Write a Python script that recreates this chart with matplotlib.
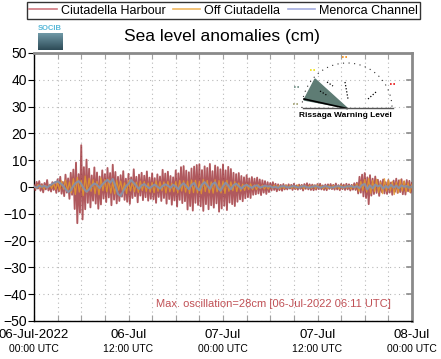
import numpy as np
import matplotlib
matplotlib.use("Agg")
import matplotlib.pyplot as plt
from matplotlib.lines import Line2D
from matplotlib.patches import Polygon, Arc
from matplotlib.colors import LinearSegmentedColormap

plt.rcParams['font.family'] = ['Liberation Sans', 'DejaVu Sans']

# ---------------------------------------------------------------- data
# hours since 06-Jul-2022 00:00 UTC; sea level anomaly in cm
HARBOUR = [  # 10-min samples, one row per hour
    0.8, -1.2, 1.9, -0.6, 2.2, -1.4,
    1.1, -2.0, 1.5, -0.9, 2.6, -1.3,
    0.7, -1.7, 1.8, -1.1, 1.2, -2.2,
    2.9, -1.6, 3.8, -2.5, 1.9, -3.4,
    4.6, -2.1, 3.2, -4.4, 5.3, -2.9,
    6.5, -8.2, 9.1, -13.5, 4.8, -9.6,
    15.6, -12.1, 7.4, -8.3, 10.2, -5.9,
    6.8, -7.6, 4.3, -5.1, 7.3, -6.2,
    5.4, -8.1, 3.9, -6.5, 6.2, -4.3,
    4.8, -5.6, 7.1, -3.9, 5.2, -6.8,
    8.3, -4.7, 5.6, -6.1, 3.8, -5.2,
    4.4, -3.6, 5.9, -4.8, 3.1, -5.5,
    4.9, -6.3, 3.6, -4.1, 6.6, -3.4,
    3.8, -5.7, 4.6, -3.2, 5.3, -4.9,
    4.2, -3.8, 5.8, -5.1, 3.5, -4.4,
    5.1, -4.6, 3.3, -5.9, 4.7, -3.7,
    3.9, -5.2, 6.4, -4.1, 5.0, -6.2,
    5.7, -4.5, 4.1, -6.6, 3.6, -5.0,
    6.2, -7.3, 5.1, -4.8, 7.4, -6.0,
    7.8, -5.3, 6.1, -8.4, 5.5, -7.1,
    6.9, -8.8, 7.6, -5.9, 8.2, -6.7,
    8.5, -7.2, 6.3, -8.9, 7.7, -6.4,
    7.1, -8.3, 8.6, -6.8, 5.9, -7.7,
    8.0, -6.1, 7.4, -9.2, 6.6, -8.0,
    8.4, -7.0, 6.2, -8.6, 7.5, -5.8,
    6.7, -6.4, 5.3, -7.1, 4.8, -5.5,
    5.2, -4.6, 4.1, -5.3, 3.6, -4.2,
    4.4, -3.8, 3.2, -4.1, 3.7, -2.9,
    3.1, -2.7, 3.5, -2.4, 2.8, -3.0,
    2.5, -2.1, 2.2, -2.6, 1.8, -1.9,
    1.5, -1.3, 1.8, -1.1, 1.2, -1.6,
    1.0, -1.2, 0.8, -1.4, 1.1, -0.9,
    0.7, -0.9, 1.0, -0.6, 0.8, -1.1,
    1.2, -0.8, 0.6, -1.0, 0.9, -0.7,
    0.8, -1.3, 1.1, -0.7, 1.4, -0.9,
    1.0, -1.1, 0.9, -1.2, 0.7, -1.0,
    1.1, -0.8, 1.2, -0.9, 0.6, -1.1,
    0.9, -1.2, 1.0, -0.7, 1.1, -0.8,
    0.8, -1.0, 1.3, -0.9, 0.7, -1.2,
    1.1, -0.8, 0.9, -1.1, 1.2, -0.9,
    1.0, -1.3, 0.8, -1.0, 1.4, -1.1,
    1.6, -2.4, 3.8, -2.1, 4.6, -3.5,
    5.2, -4.1, 3.6, -6.4, 4.4, -3.2,
    3.1, -2.6, 3.9, -2.2, 2.7, -3.3,
    2.2, -1.9, 2.8, -2.4, 1.8, -2.6,
    2.6, -2.1, 1.7, -2.9, 2.4, -1.8,
    3.1, -2.2, 2.5, -1.9, 2.9, -2.7,
    2.0, -2.8, 2.6, -1.6, 2.3, -2.1,
    1.5,
]
OFF_CIUTADELLA = [  # 15-min samples, one row per hour
    0.3, -0.6, 0.9, -0.4,
    0.7, -0.8, 0.5, -0.3,
    1.0, -0.5, 1.4, -0.9,
    1.8, -1.2, 2.3, -0.8,
    2.6, -1.5, 1.9, -2.2,
    3.1, -2.8, 3.6, -1.9,
    2.4, -3.2, 4.1, -2.0,
    3.3, -1.6, 2.7, -2.5,
    2.1, -2.9, 3.4, -1.4,
    2.8, -1.8, 3.0, -2.3,
    1.9, -2.6, 2.5, -1.2,
    2.2, -1.7, 1.6, -2.4,
    2.4, -1.5, 2.1, -1.8,
    1.8, -2.0, 2.2, -1.3,
    2.0, -1.7, 1.5, -1.9,
    1.7, -2.1, 2.3, -1.6,
    2.0, -1.4, 1.9, -2.2,
    2.1, -1.8, 1.4, -1.8,
    2.0, -2.2, 2.5, -1.5,
    2.3, -1.9, 2.2, -2.4,
    2.6, -2.1, 2.5, -2.2,
    2.1, -2.5, 2.8, -1.7,
    2.4, -2.2, 1.9, -2.3,
    2.7, -1.8, 2.4, -2.2,
    2.2, -2.4, 2.5, -1.6,
    1.9, -1.4, 2.0, -1.7,
    1.5, -1.5, 1.1, -1.3,
    1.2, -0.9, 1.2, -1.0,
    0.8, -1.0, 0.9, -0.6,
    0.7, -0.8, 0.5, -0.8,
    0.6, -0.5, 0.7, -0.4,
    0.5, -0.7, 0.4, -0.6,
    0.7, -0.4, 0.6, -0.5,
    0.4, -0.6, 0.8, -0.5,
    0.6, -0.7, 0.5, -0.4,
    0.5, -0.5, 0.7, -0.6,
    0.8, -0.4, 0.5, -0.7,
    0.4, -0.6, 0.6, -0.5,
    0.6, -0.5, 0.4, -0.7,
    0.7, -0.6, 0.5, -0.4,
    0.5, -0.8, 0.7, -0.6,
    1.2, -1.6, 2.1, -1.3,
    2.8, -1.9, 3.2, -2.4,
    2.4, -1.7, 2.9, -2.1,
    1.8, -2.5, 3.1, -1.6,
    2.6, -1.4, 2.0, -2.8,
    1.9, -2.2, 2.7, -1.5,
    2.3, -1.8, 1.6, -2.0,
    1.0,
]
MENORCA_CHANNEL = [  # 20-min samples, one row per hour
    0.2, -0.3, 0.5,
    0.1, 0.4, -0.2,
    0.6, 1.2, 1.8,
    2.1, 1.4, 0.6,
    -0.8, -1.9, -1.2,
    0.4, 1.6, 2.2,
    1.1, -0.6, -1.8,
    -0.9, 0.5, 1.3,
    0.8, -0.4, 0.9,
    1.9, 2.7, 1.6,
    3.0, 0.4, -2.6,
    -3.4, -1.5, 0.3,
    1.2, 2.6, 1.5,
    0.4, -0.7, 0.6,
    1.1, 0.2, -0.5,
    0.3, 0.9, 0.1,
    -0.6, 0.4, 1.0,
    0.5, -0.3, 0.8,
    0.2, -0.9, 0.6,
    1.4, 0.3, -0.8,
    0.7, 1.5, -0.4,
    -1.2, 0.9, 1.8,
    0.6, -0.7, 1.1,
    1.7, -0.3, -1.4,
    0.2, 1.6, 0.5,
    -0.8, 0.7, 1.2,
    0.3, -0.6, 0.4,
    0.8, 0.2, -0.3,
    0.4, 0.6, -0.2,
    0.1, 0.5, 0.2,
    0.3, -0.2, 0.1,
    -0.3, 0.2, 0.3,
    0.1, -0.2, 0.2,
    0.3, 0.0, -0.2,
    0.2, 0.3, -0.1,
    -0.2, 0.1, 0.3,
    0.2, -0.3, 0.1,
    0.3, 0.1, -0.2,
    -0.1, 0.2, 0.3,
    0.1, -0.2, 0.2,
    0.2, 0.3, -0.1,
    0.3, -0.4, 0.8,
    1.1, -0.9, 0.6,
    -0.5, 0.9, 0.2,
    0.7, -0.6, 0.4,
    -0.3, 0.8, -0.2,
    0.5, -0.4, 0.6,
    0.1, 0.4, -0.3,
    0.2,
]

SERIES = ["Ciutadella Harbour", "Off Ciutadella", "Menorca Channel"]
TICK_HOURS = [0, 12, 24, 36, 48]
TICK_TOP = ["06-Jul-2022", "06-Jul", "07-Jul", "07-Jul", "08-Jul"]
TICK_BOT = ["00:00 UTC", "12:00 UTC", "00:00 UTC", "12:00 UTC", "00:00 UTC"]
NOTE = "Max. oscillation=28cm [06-Jul-2022 06:11 UTC]"

# ---------------------------------------------------------------- figure
W, H = 441, 359
fig = plt.figure(figsize=(W / 100, H / 100), dpi=100)
ax = fig.add_axes([34 / W, 1 - 321 / H, 378 / W, 268 / H])


def hours(vals):
    return np.linspace(0, 48, len(vals))


ax.plot(hours(HARBOUR), HARBOUR, color="#9c3036", lw=1.35, alpha=0.8,
        zorder=3)
ax.plot(hours(OFF_CIUTADELLA), OFF_CIUTADELLA, color="#e49a2c", lw=0.9,
        alpha=0.85, zorder=4)
ax.plot(hours(MENORCA_CHANNEL), MENORCA_CHANNEL, color="#8a8fa3", lw=1.5,
        zorder=5)

ax.set_xlim(0, 48)
ax.set_ylim(-50, 50)
ax.set_yticks(np.arange(-50, 51, 10))
ax.set_xticks(np.arange(0, 49, 3))
ax.set_xticklabels([])
ax.grid(True, ls=(0, (1, 3)), color="#b8b8b8", lw=0.8)
ax.set_axisbelow(True)

for s in ("left", "bottom"):
    ax.spines[s].set_color("black")
    ax.spines[s].set_linewidth(1.0)
for s in ("top", "right"):
    ax.spines[s].set_color("#8a8a8a")
    ax.spines[s].set_linewidth(2.0)

ax.tick_params(axis="y", which="both", direction="out", length=4,
               labelsize=10, pad=1, right=False)
ax.tick_params(axis="x", which="both", direction="in", length=4,
               color="#a0a0a0", top=True)
# ticks pointing inward along the right spine
for y in np.arange(-40, 50, 10):
    ax.plot([47.4, 48], [y, y], color="#8a8a8a", lw=1.2, clip_on=False,
            zorder=6)

tr = ax.get_xaxis_transform()
for hx, t1, t2 in zip(TICK_HOURS, TICK_TOP, TICK_BOT):
    ax.text(hx, -0.03, t1, transform=tr, ha="center", va="top",
            fontsize=9.5)
    ax.text(hx, -0.085, t2, transform=tr, ha="center", va="top",
            fontsize=7.5)

ax.text(0.945, 0.045, NOTE, transform=ax.transAxes, ha="right",
        va="bottom", fontsize=8, color="#c05055")

fig.text(222 / W, 1 - 36 / H, "Sea level anomalies (cm)", ha="center",
         va="center", fontsize=12.5)

handles = [Line2D([], [], color=c, lw=1.2)
           for c in ("#cf7880", "#f0b860", "#a6aee0")]
leg = fig.legend(handles, SERIES, loc="upper center", ncol=3,
                 bbox_to_anchor=(223.5 / W, 1 - 2 / H), fontsize=9,
                 frameon=True, fancybox=False, handlelength=2.2,
                 handletextpad=0.3, columnspacing=0.6, borderpad=0.2,
                 borderaxespad=0)
leg.get_frame().set_edgecolor("black")
leg.get_frame().set_linewidth(1.0)

# SOCIB logo
logo = fig.add_axes([38 / W, 1 - 50 / H, 25 / W, 17 / H])
grad = np.linspace(0, 1, 20).reshape(-1, 1)
logo.imshow(grad, aspect="auto", extent=[0, 1, 0, 1],
            cmap=LinearSegmentedColormap.from_list(
                "socib", ["#6f98a6", "#2e4c58"]))
logo.axis("off")
fig.text(50 / W, 1 - 29 / H, "SOCIB", ha="center", va="center",
         fontsize=5.5, color="#58b8d8", weight="bold")

# rissaga warning level gauge
g = fig.add_axes([290 / W, 1 - 120 / H, 110 / W, 68 / H])
g.set_xlim(290, 400)
g.set_ylim(120, 52)
g.axis("off")
cx, cy, r = 347, 108, 45
g.add_patch(Arc((cx, cy), 2 * r, 2 * r, theta1=180, theta2=360,
                ls=(0, (1, 4)), color="#333333", lw=0.8))
g.add_patch(Polygon([(cx, cy), (315, 79), (304, 100)], closed=True,
                    color="#5e7c74"))
g.plot([304, cx], [99, cy + 0.5], color="black", lw=1.2)
g.plot([303, 393], [108, 108], color="#555555", lw=1.0)
for (px, py, c) in [(345, 57, "#f08a10"), (313, 70, "#f0e010"),
                    (297, 87, "#6a8a80"), (296, 104, "#a0a070"),
                    (393, 84, "#e81010")]:
    g.plot([px - 3, px + 3], [py, py], color=c, lw=1.2, ls=(0, (1, 1)))
for (px0, py0, px1, py1) in [(345, 82, 348, 99), (368, 99, 376, 92),
                             (327, 82, 333, 86), (320, 91, 328, 96)]:
    g.plot([px0, px1], [py0, py1], color="black", lw=0.9, ls=(0, (1, 1.5)))
g.text(345, 115, "Rissaga Warning Level", ha="center", va="center",
       fontsize=6, weight="bold")

fig.savefig("out.png", dpi=100)
